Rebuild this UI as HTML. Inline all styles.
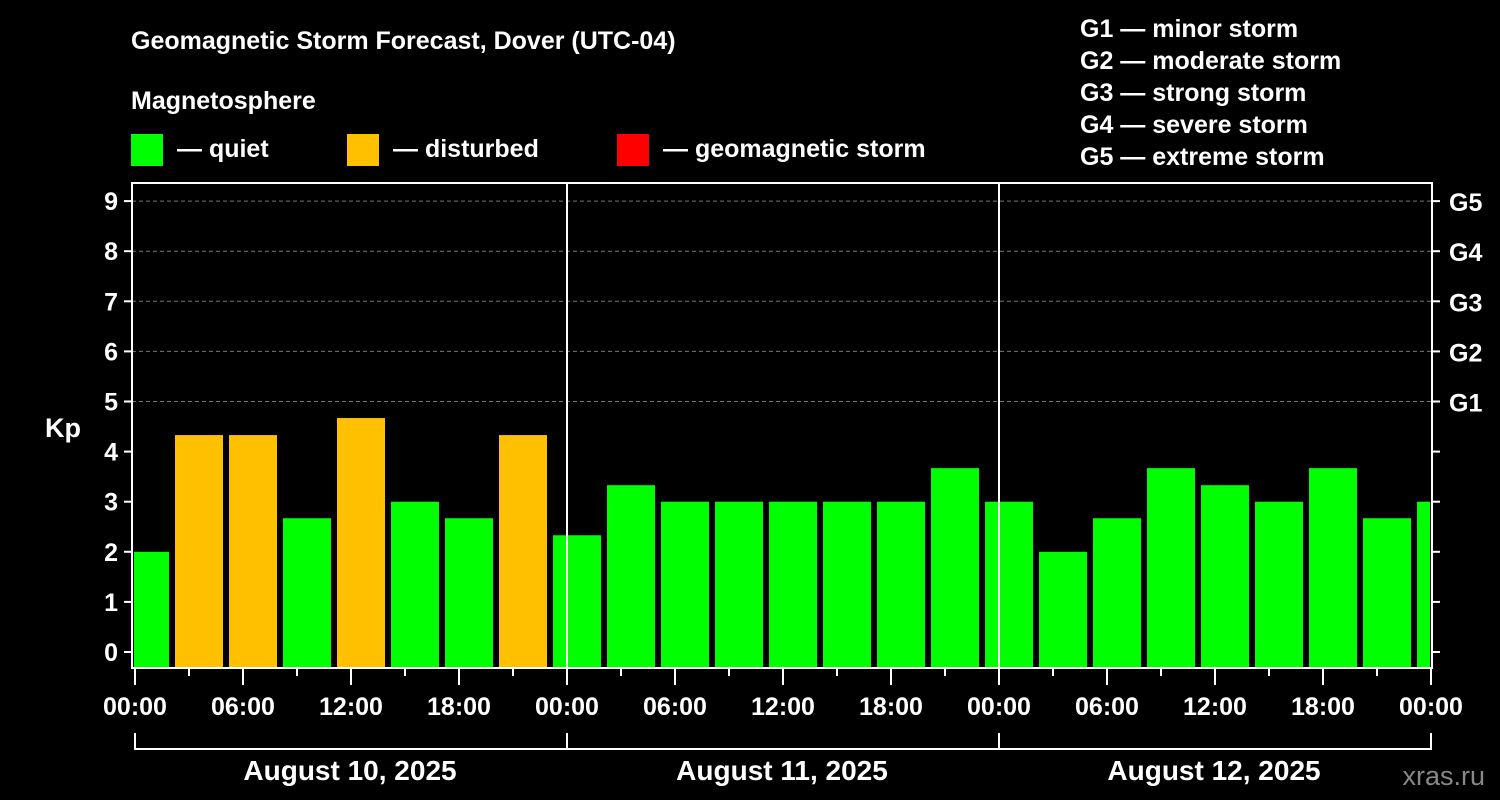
<!DOCTYPE html>
<html><head><meta charset="utf-8"><style>
html,body{margin:0;padding:0;background:#000;width:1500px;height:800px;overflow:hidden}
svg{display:block;font-family:"Liberation Sans",sans-serif;font-weight:bold}
</style></head><body>
<svg id="chart" width="1500" height="800" viewBox="0 0 1500 800">
<rect width="1500" height="800" fill="#000"/>
<text x="131" y="49" fill="#fff" font-size="25">Geomagnetic Storm Forecast, Dover (UTC-04)</text>
<text x="131" y="109" fill="#fff" font-size="25">Magnetosphere</text>
<g><rect x="131" y="134" width="32" height="32" fill="#00ff00"/><text x="177" y="157" fill="#fff" font-size="25">— quiet</text></g>
<g><rect x="347" y="134" width="32" height="32" fill="#ffc000"/><text x="393" y="157" fill="#fff" font-size="25">— disturbed</text></g>
<g><rect x="617" y="134" width="32" height="32" fill="#ff0000"/><text x="663" y="157" fill="#fff" font-size="25">— geomagnetic storm</text></g>
<g fill="#fff" font-size="25">
<text x="1080" y="37">G1 — minor storm</text>
<text x="1080" y="69">G2 — moderate storm</text>
<text x="1080" y="101">G3 — strong storm</text>
<text x="1080" y="133">G4 — severe storm</text>
<text x="1080" y="165">G5 — extreme storm</text>
</g>
<text x="63" y="437" fill="#fff" font-size="27" text-anchor="middle">Kp</text>
<text x="1485" y="785" fill="#888" font-size="27" text-anchor="end" font-weight="normal">xras.ru</text>
<defs><clipPath id="plotclip"><rect x="134" y="183" width="1296" height="485"/></clipPath></defs>
<g id="grid"></g>
<g id="bars" clip-path="url(#plotclip)"></g>
<g id="axes"></g>
</svg>
<script>
const kpValues = [2, 4.33, 4.33, 2.67, 4.67, 3, 2.67, 4.33,
  2.33, 3.33, 3, 3, 3, 3, 3, 3.67,
  3, 2, 2.67, 3.67, 3.33, 3, 3.67, 2.67, 3];
const barHourOffsets = 0.5; // bars centered at 0.5 + 3k hours local
const timeTickLabels = ["00:00","06:00","12:00","18:00"];
const dayLabels = ["August 10, 2025","August 11, 2025","August 12, 2025"];
const yTickLabels = ["0","1","2","3","4","5","6","7","8","9"];
const gLabels = ["G1","G2","G3","G4","G5"];

const NS="http://www.w3.org/2000/svg";
const X0=135, PXH=18, Y0=652, PXK=50.1;
const xs=h=>X0+h*PXH, ys=k=>Y0-k*PXK;
const plotL=132, plotR=1432, plotT=183, plotB=668;
function mk(tag,attrs,parent){const e=document.createElementNS(NS,tag);for(const k in attrs)e.setAttribute(k,attrs[k]);parent.appendChild(e);return e;}
const grid=document.getElementById('grid'), bars=document.getElementById('bars'), axes=document.getElementById('axes');

for(let k=5;k<=9;k++){
  const l=mk('line',{x1:plotL,x2:plotR,y1:ys(k),y2:ys(k),stroke:'#777','stroke-dasharray':'4,3','stroke-width':1},grid);
  
  
}
kpValues.forEach((v,i)=>{
  const c=barHourOffsets+3*i;
  const r=mk('rect',{x:xs(c)-24+1,y:ys(v),width:48,height:plotB-ys(v),fill:v>=5?'#ff0000':(v>=4?'#ffc000':'#00ff00')},bars);
  
  
});
for(let d=1;d<3;d++){
  const l=mk('line',{x1:xs(24*d),x2:xs(24*d),y1:plotT,y2:plotB,stroke:'#fff','stroke-width':2},axes);
  
  
}
const frame=mk('rect',{x:plotL,y:plotT,width:plotR-plotL,height:plotB-plotT,fill:'none',stroke:'#fff','stroke-width':2},axes);


yTickLabels.forEach((t,k)=>{
  mk('line',{x1:plotL-8,x2:plotL,y1:ys(k),y2:ys(k),stroke:'#fff','stroke-width':2},axes);
  mk('line',{x1:plotR,x2:plotR+8,y1:ys(k),y2:ys(k),stroke:'#fff','stroke-width':2},axes);
  const tx=mk('text',{x:plotL-14,y:ys(k)+9,fill:'#fff','font-size':25,'text-anchor':'end'},axes);
  tx.textContent=t;
  
  
});
gLabels.forEach((g,i)=>{
  const tx=mk('text',{x:1449,y:ys(5+i)+10,fill:'#fff','font-size':25},axes);
  tx.textContent=g;
  
  
});
for(let h=0;h<=72;h+=3){
  const major=h%6===0;
  mk('line',{x1:xs(h),x2:xs(h),y1:plotB,y2:plotB+(major?17:8),stroke:'#fff','stroke-width':2},axes);
  if(major){
    const tx=mk('text',{x:xs(h),y:715,fill:'#fff','font-size':25,'text-anchor':'middle'},axes);
    tx.textContent=timeTickLabels[(h%24)/6];
    
    
  }
}
const br=mk('path',{d:`M${xs(0)} 733V749H${xs(72)}V733M${xs(24)} 733V749M${xs(48)} 733V749`,fill:'none',stroke:'#fff','stroke-width':2},axes);


dayLabels.forEach((d,i)=>{
  const tx=mk('text',{x:xs(24*i+12)-1,y:780,fill:'#fff','font-size':28,'text-anchor':'middle'},axes);
  tx.textContent=d;
  
  
});
</script>
</body></html>
